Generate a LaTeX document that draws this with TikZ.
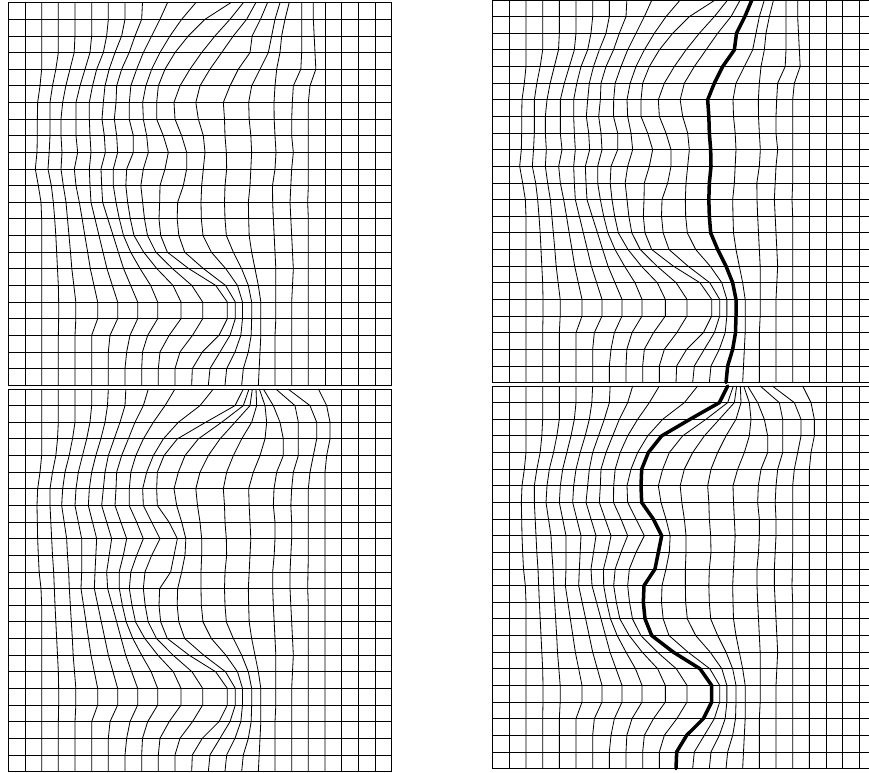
\documentclass[tikz,border=0pt]{standalone}
\usepackage{amsmath}

\newcommand\warpline[3][gridln]{\draw[#1] (#2,0) \foreach \c [count=\j] in {#3} {-- (\c,\j)};}

\newcommand\panelbase[1]{%
  \foreach \j in {0,...,23} \draw[gridln] (0,\j) -- (23,\j);
  \foreach \i in {#1} \draw[gridln] (\i,0) -- (\i,23);
}

\newcommand\topfield{%
  \panelbase{0,1,19,20,21,22,23}
  \warpline{2}{2,2,2,2,1.9,1.76,1.74,1.74,1.72,1.62,1.8,1.96,2,2,2,2,2,2,2,2,2,2,2}
  \warpline{3}{3,3,3,2.85,2.65,2.5,2.5,2.5,2.45,2.38,2.58,2.7,2.78,2.85,2.9,2.95,3,3.02,3.02,3,3,3,3}
  \warpline{4}{4,4,3.95,3.7,3.45,3.26,3.16,3.16,3.22,3.16,3.3,3.46,3.55,3.64,3.73,3.81,3.93,4.05,4.05,4,4,4,4}
  \warpline{5}{5,5,4.9,4.6,4.3,4.06,4.06,4.06,4.16,3.96,4.06,4.26,4.43,4.59,4.76,4.92,5.14,5.36,5.36,5,5,5,5}
  \warpline{6}{6,5.9,5.7,5.3,5.05,4.86,4.86,4.9,4.96,4.86,4.9,4.96,5.2,5.44,5.68,5.92,6.24,6.56,6.56,6.1,6,6,6}
  \warpline{7}{7,6.8,6.4,6.05,5.8,5.7,5.62,5.76,5.82,5.56,5.6,5.66,5.97,6.29,6.6,6.92,7.34,7.76,7.76,7.3,7.1,7,7}
  \warpline{8.05}{8,7.6,7.25,6.8,6.5,6.46,6.36,6.5,6.56,6.3,6.3,6.46,6.66,6.91,7.34,7.91,8.54,8.96,8.96,8.36,8.05,8,8}
  \warpline{9.55}{9.1,8.6,8.1,7.7,7.35,7.26,7.25,7.5,7.5,7.1,7.05,7.16,7.32,7.54,8.12,8.92,9.88,10.36,10.36,9.65,9.1,9,9}
  \warpline{11.25}{10.4,9.7,9.1,8.6,8.25,8.06,8.1,8.3,8.4,8.1,7.95,8.06,8.17,8.35,8.85,9.86,11.01,11.66,11.66,11.05,10.3,10,10}
  \warpline{13.35}{11.8,10.8,10,9.4,9,8.9,8.9,9.3,9.6,9.4,9.1,9.08,9.04,9.14,9.54,10.84,12.44,13.14,13.14,12.64,11.64,11.04,11}
  \warpline{14.1}{13.3,12.4,11.6,10.9,10.3,9.94,10,10.4,10.7,10.7,10.5,10.16,10.13,10.23,10.58,11.72,13.03,13.62,13.62,13.3,12.7,12.1,12}
  \warpline{14.85}{14.3,13.5,12.8,12.1,11.5,11.25,11.4,11.7,11.8,11.7,11.6,11.56,11.58,11.68,12.18,13.05,13.75,14.05,14.05,13.95,13.6,13.1,13}
  \warpline{15.55}{15.13,14.63,14.5,13.8,13.3,12.9,12.97,13,13.08,13.1,13,12.97,13,13.08,13.5,14,14.4,14.6,14.6,14.57,14.4,14.1,14}
  \warpline{16.3}{16,15.8,15.6,15.1,14.6,14.42,14.45,14.55,14.6,14.55,14.5,14.4,14.42,14.45,14.6,14.8,15,15.15,15.15,15.15,15.1,15.05,15}
  \warpline{16.85}{16.6,16.4,16.3,16.1,16,15.94,15.95,16,16.06,16,15.85,15.86,15.9,15.95,16,16.05,16.05,16.05,16.05,16,16,16,16}
  \warpline{17.6}{17.6,17.6,17.6,17.55,17.1,17.04,17,17,17.1,17,16.95,16.9,16.95,17,17.05,17.1,17.05,17,17,17,17,17,17}
  \warpline{18.3}{18.3,18.35,18.4,18.45,18.1,18,18,18,18,18,18,17.96,18,18,18,18,18,18,18,18,18,18,18}
}

\newcommand\bottomfield{%
  \panelbase{0,1,20,21,22,23}
  \warpline{2}{2,2,2,2,1.9,1.76,1.72,1.74,1.76,1.8,1.85,1.96,2,2,2,2,2,2,2,2,2,2,2}
  \warpline{3}{3,3,2.95,2.85,2.65,2.5,2.5,2.55,2.6,2.65,2.72,2.76,2.8,2.85,2.9,2.95,3,3.02,3.02,3,3,3,3}
  \warpline{4}{4,4,3.85,3.65,3.4,3.26,3.2,3.35,3.5,3.55,3.62,3.66,3.72,3.78,3.84,3.89,3.97,4.05,4.05,4,4,4,4}
  \warpline{5}{5,4.9,4.7,4.45,4.2,4.06,4,4.2,4.4,4.4,4.4,4.36,4.51,4.66,4.81,4.96,5.16,5.36,5.36,5,5,5,5}
  \warpline{6}{5.95,5.8,5.55,5.25,5,4.86,4.8,5.05,5.3,5.25,5.2,5.16,5.37,5.58,5.79,6,6.28,6.56,6.56,6.1,6,6,6}
  \warpline{7.05}{7,6.7,6.35,6,5.8,5.7,5.6,5.9,6.2,6.05,5.9,5.96,6.23,6.5,6.77,7.04,7.4,7.76,7.76,7.3,7.1,7,7}
  \warpline{8.4}{8.1,7.6,7.2,6.8,6.5,6.46,6.4,6.75,7.1,6.9,6.65,6.66,6.84,7.07,7.47,8,8.57,8.96,8.96,8.36,8.05,8,8}
  \warpline{10}{9.4,8.7,8.1,7.65,7.35,7.26,7.25,7.7,8.1,7.7,7.35,7.26,7.42,7.63,8.19,8.97,9.9,10.36,10.36,9.65,9.1,9,9}
  \warpline{12.3}{11.5,10.2,9.3,8.7,8.3,8.06,8.1,8.6,9.1,8.6,8.2,8.1,8.21,8.39,8.89,9.88,11.02,11.66,11.66,11.05,10.3,10,10}
  \warpline{14.1}{13.6,11.84,10.14,9.34,8.94,8.9,8.94,9.64,10.14,9.94,9.74,9.08,9.04,9.14,9.54,10.84,12.44,13.14,13.14,12.64,11.64,11.04,11}
  \warpline{14.44}{14.1,12.8,11.4,10.6,10.2,9.94,10.1,10.4,10.65,10.6,10.4,10.16,10.13,10.23,10.58,11.72,13.03,13.62,13.62,13.3,12.7,12.1,12}
  \warpline{14.64}{14.5,13.6,12.7,12,11.5,11.25,11.35,11.5,11.6,11.6,11.56,11.56,11.58,11.68,12.18,13.05,13.75,14.05,14.05,13.95,13.6,13.1,13}
  \warpline{14.86}{14.9,14.6,14,13.5,13.1,12.9,12.97,13,13.08,13.1,13,12.97,13,13.08,13.5,14,14.4,14.6,14.6,14.57,14.4,14.1,14}
  \warpline{15.06}{15.4,15.5,15.4,15.1,14.7,14.42,14.45,14.5,14.55,14.5,14.45,14.4,14.42,14.45,14.6,14.8,15,15.15,15.15,15.15,15.1,15.05,15}
  \warpline{15.3}{15.9,16.3,16.5,16.5,16.1,15.94,15.9,16,16,15.95,15.86,15.86,15.9,15.95,16,16.05,16.05,16.05,16.05,16,16,16,16}
  \warpline{16.05}{17.2,17.4,17.4,17.4,17.1,17,16.95,17,17,16.95,16.9,16.9,16.95,17,17.05,17.1,17.05,17,17,17,17,17,17}
  \warpline{16.78}{18.1,18.5,18.5,18.3,18.1,18,18,18,18,18,17.98,17.96,18,18,18,18,18,18,18,18,18,18,18}
  \warpline{18.6}{19.1,19.3,19.3,19.1,19,19,19,19,19,19,19,19,19,19,19,19,19,19,19,19,19,19,19}
}

\begin{document}
\begin{tikzpicture}[x=0.5cm, y=-0.499cm,
    gridln/.style={line width=0.7pt, line join=round},
    frontln/.style={line width=3pt, line join=round, line cap=round}]

  \useasboundingbox (0cm,0cm) rectangle (26.07cm,-23.19cm);
  \clip (0cm,0cm) rectangle (26.07cm,-23.19cm);

  % left column
  \begin{scope}[shift={(0.25cm,-0.08cm)}]
    \topfield
  \end{scope}
  \begin{scope}[shift={(0.25cm,-11.67cm)}]
    \bottomfield
  \end{scope}

  % right column, with the traced line
  \begin{scope}[shift={(14.78cm,0cm)}]
    \topfield
    \warpline[frontln]{15.55}{15.13,14.63,14.5,13.8,13.3,12.9,12.97,13,13.08,13.1,13,12.97,13,13.08,13.5,14,14.4,14.6,14.6,14.57,14.4,14.1,14}
  \end{scope}
  \begin{scope}[shift={(14.78cm,-11.58cm)}]
    \bottomfield
    \warpline[frontln]{14.1}{13.6,11.84,10.14,9.34,8.94,8.9,8.94,9.64,10.14,9.94,9.74,9.08,9.04,9.14,9.54,10.84,12.44,13.14,13.14,12.64,11.64,11.04,11}
  \end{scope}

\end{tikzpicture}
\end{document}
